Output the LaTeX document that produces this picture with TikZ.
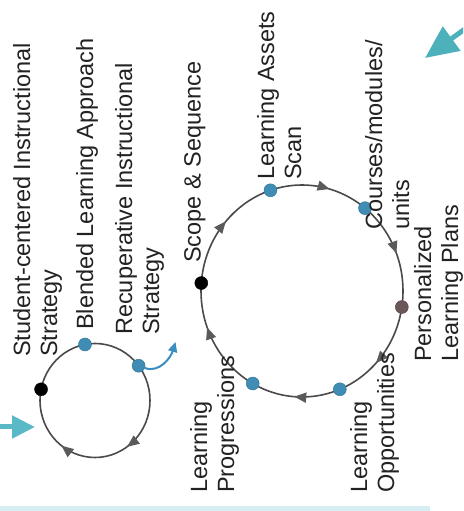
\documentclass[tikz,border=0pt]{standalone}
\usepackage{fontspec}
\setmainfont{Liberation Sans}
\usetikzlibrary{arrows.meta,decorations.markings}
\definecolor{ringgray}{HTML}{4A4A4A}
\definecolor{tipgray}{HTML}{5A5A5A}
\definecolor{dotblue}{HTML}{3F8DB4}
\definecolor{dotbrown}{HTML}{6B5758}
\definecolor{cyanarrow}{HTML}{5BB8C6}
\definecolor{tealarrow}{HTML}{4CB1BA}
\definecolor{curveblue}{HTML}{3A8CC2}
\definecolor{txtgray}{HTML}{222222}

\begin{document}
\begin{tikzpicture}
[%%%%%%%%%%%%%%%%%%%%%%%%%%%%%%
x=1pt,y=1pt,
lbl/.style={rotate=90,anchor=north west,align=left,inner sep=0pt,text=txtgray,
  font=\fontsize{23.5}{27}\selectfont},
dot/.style={circle,inner sep=0pt,minimum size=13pt,draw=#1!80!black,fill=#1},
ring/.style={draw=ringgray,line width=1.6pt,postaction={decorate}},
tip/.style={-{Triangle[length=12pt,width=10pt]},tipgray},
]%%%%%%%%%%%%%%%%%%%%%%%%%%%%%%

\useasboundingbox[fill=white] (0,0) rectangle (463,511);
\clip (0,0) rectangle (463,511);
\fill[cyanarrow!25] (0,0) rectangle (430,5);

\coordinate (small) at (95,110.5);
\coordinate (big) at (302,220);

% small cycle
\path[ring,decoration={markings,
  mark=at position 0.152 with {\arrow[tipgray]{Triangle[length=12pt,width=10pt]}},
  mark=at position 0.353 with {\arrow[tipgray]{Triangle[length=12pt,width=10pt]}}}]
  (small) ++(0:55 and 57) arc[start angle=360,end angle=0,x radius=55,y radius=57];

% big cycle
\path[ring,decoration={markings,
  mark=at position 0.121 with {\arrow[tipgray]{Triangle[length=12pt,width=10pt]}},
  mark=at position 0.262 with {\arrow[tipgray]{Triangle[length=12pt,width=10pt]}},
  mark=at position 0.443 with {\arrow[tipgray]{Triangle[length=12pt,width=10pt]}},
  mark=at position 0.616 with {\arrow[tipgray]{Triangle[length=12pt,width=10pt]}},
  mark=at position 0.793 with {\arrow[tipgray]{Triangle[length=12pt,width=10pt]}},
  mark=at position 0.941 with {\arrow[tipgray]{Triangle[length=12pt,width=10pt]}}}]
  (big) ++(0:101 and 106) arc[start angle=360,end angle=0,x radius=101,y radius=106];

\foreach \n/\a/\c in {s1/168.7/black,s2/100.5/dotblue,s3/37.6/dotblue}
  \node[dot=\c] (\n) at ([shift={(\a:55 and 57)}]small) {};

\foreach \n/\a/\c in {b1/175.7/black,b2/108.2/dotblue,b3/51.4/dotblue,
  b4/-8.7/dotbrown,b5/-68/dotblue,b6/-119.2/dotblue}
  \node[dot=\c] (\n) at ([shift={(\a:101 and 106)}]big) {};

% arrows in and out
\coordinate (inend) at (35,84);
\coordinate (instart) at (-5,84);
\draw[cyanarrow,line width=5pt,-{Triangle[length=23pt,width=22pt]}] (instart) -- (inend);

\coordinate (topend) at (425,453);
\coordinate (topstart) at (480,493);
\draw[tealarrow,line width=5pt,-{Triangle[length=33pt,width=29pt]}] (topstart) -- (topend);

\coordinate (outend) at (175.5,169);
\draw[curveblue,line width=2pt,-{Triangle[length=10pt,width=9pt]}]
  (s3) to[out=-20,in=-107] (outend);

% labels
\node[lbl] (stud) at (13,154) {Student-centered Instructional\\Strategy};
\node[lbl] (blend) at (76,181) {Blended Learning Approach};
\node[lbl] (recup) at (115,176) {Recuperative Instructional\\Strategy};
\node[lbl] (scope) at (184,248) {Scope \& Sequence};
\node[lbl] (assets) at (257,331) {Learning Assets\\Scan};
\node[lbl] (courses) at (365,281) {Courses/modules/\\units};
\node[lbl] (plans) at (414,149) {Personalized\\Learning Plans};
\node[lbl] (opps) at (350,18) {Learning\\Opportunities};
\node[lbl] (progs) at (190,18) {Learning\\Progressions};
\end{tikzpicture}
\end{document}
